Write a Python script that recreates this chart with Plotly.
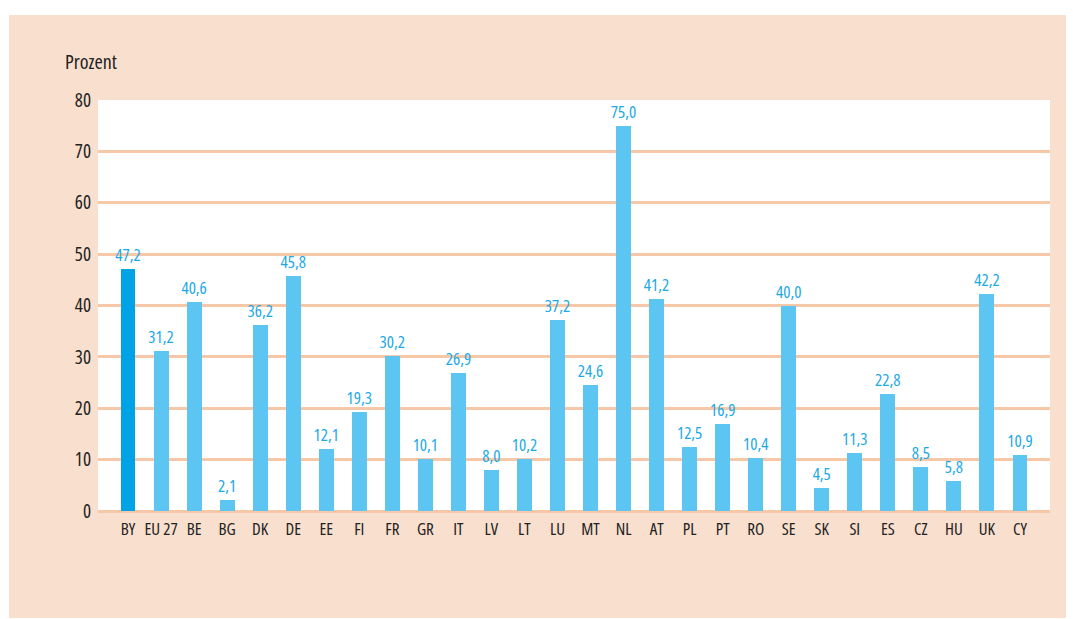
import plotly.graph_objects as go

categories = ["BY", "EU 27", "BE", "BG", "DK", "DE", "EE", "FI", "FR", "GR", "IT", "LV", "LT",
              "LU", "MT", "NL", "AT", "PL", "PT", "RO", "SE", "SK", "SI", "ES", "CZ", "HU", "UK", "CY"]
values = [47.2, 31.2, 40.6, 2.1, 36.2, 45.8, 12.1, 19.3, 30.2, 10.1, 26.9, 8.0, 10.2,
          37.2, 24.6, 75.0, 41.2, 12.5, 16.9, 10.4, 40.0, 4.5, 11.3, 22.8, 8.5, 5.8, 42.2, 10.9]
y_ticks = [0, 10, 20, 30, 40, 50, 60, 70, 80]


def cond(s):
    return f"<span style='font-stretch:condensed'>{s}</span>"


labels = [cond(f"{v:.1f}".replace(".", ",")) for v in values]
font_family = "Open Sans, sans-serif"
colors = ["#00A3E6"] + ["#5DC5F2"] * (len(categories) - 1)

fig = go.Figure(go.Bar(
    x=list(range(len(categories))),
    y=values,
    width=0.45,
    marker=dict(color=colors, line=dict(width=0)),
    text=labels,
    textposition="outside",
    textfont=dict(color="#1BA9E6", size=17, family=font_family),
    cliponaxis=False,
    constraintext="none",
    hoverinfo="skip",
))

L, R, T, B = 98, 1050, 100, 511
W, H = 1073, 619
pw, ph = R - L, B - T


def px(x):
    return (x - L) / pw


def py(y):
    return (B - y) / ph


fig.update_layout(
    width=W, height=H,
    margin=dict(l=L, r=W - R, t=T, b=H - B, pad=0),
    paper_bgcolor="white",
    plot_bgcolor="rgba(0,0,0,0)",
    showlegend=False,
    bargap=0,
    font=dict(family=font_family, color="#222222", size=16),
    xaxis=dict(
        tickmode="array",
        tickvals=list(range(len(categories))),
        ticktext=[cond(c) for c in categories],
        range=[-0.91, len(categories) - 1 + 0.91],
        showgrid=False, zeroline=False, showline=False,
        ticks="", ticklen=0, ticklabelstandoff=6,
        tickfont=dict(size=17, color="#222222", family=font_family),
        fixedrange=True,
    ),
    yaxis=dict(
        range=[0, 80],
        tickmode="array",
        tickvals=y_ticks,
        ticktext=[cond(str(t)) for t in y_ticks],
        showgrid=True, gridcolor="#F6C8A8", gridwidth=3,
        zeroline=True, zerolinecolor="#F6C8A8", zerolinewidth=3,
        showline=False, ticks="", ticklen=0, ticklabelstandoff=6,
        tickfont=dict(size=19, color="#222222", family=font_family),
        fixedrange=True,
    ),
    shapes=[
        dict(type="rect", xref="paper", yref="paper", layer="below",
             x0=px(9), x1=px(1066), y0=py(618), y1=py(15),
             fillcolor="#F9DFCE", line=dict(width=0)),
        dict(type="rect", xref="paper", yref="paper", layer="below",
             x0=0, x1=1, y0=0, y1=1,
             fillcolor="white", line=dict(width=0)),
    ],
    annotations=[
        dict(text=cond("Prozent"), xref="paper", yref="paper", x=px(63), y=py(62),
             xanchor="left", yanchor="middle", showarrow=False,
             font=dict(size=20, color="#222222", family=font_family)),
    ],
)

fig.write_html("out.html", config={"displayModeBar": False, "staticPlot": True},
               post_script="document.body.style.margin='0px';")
